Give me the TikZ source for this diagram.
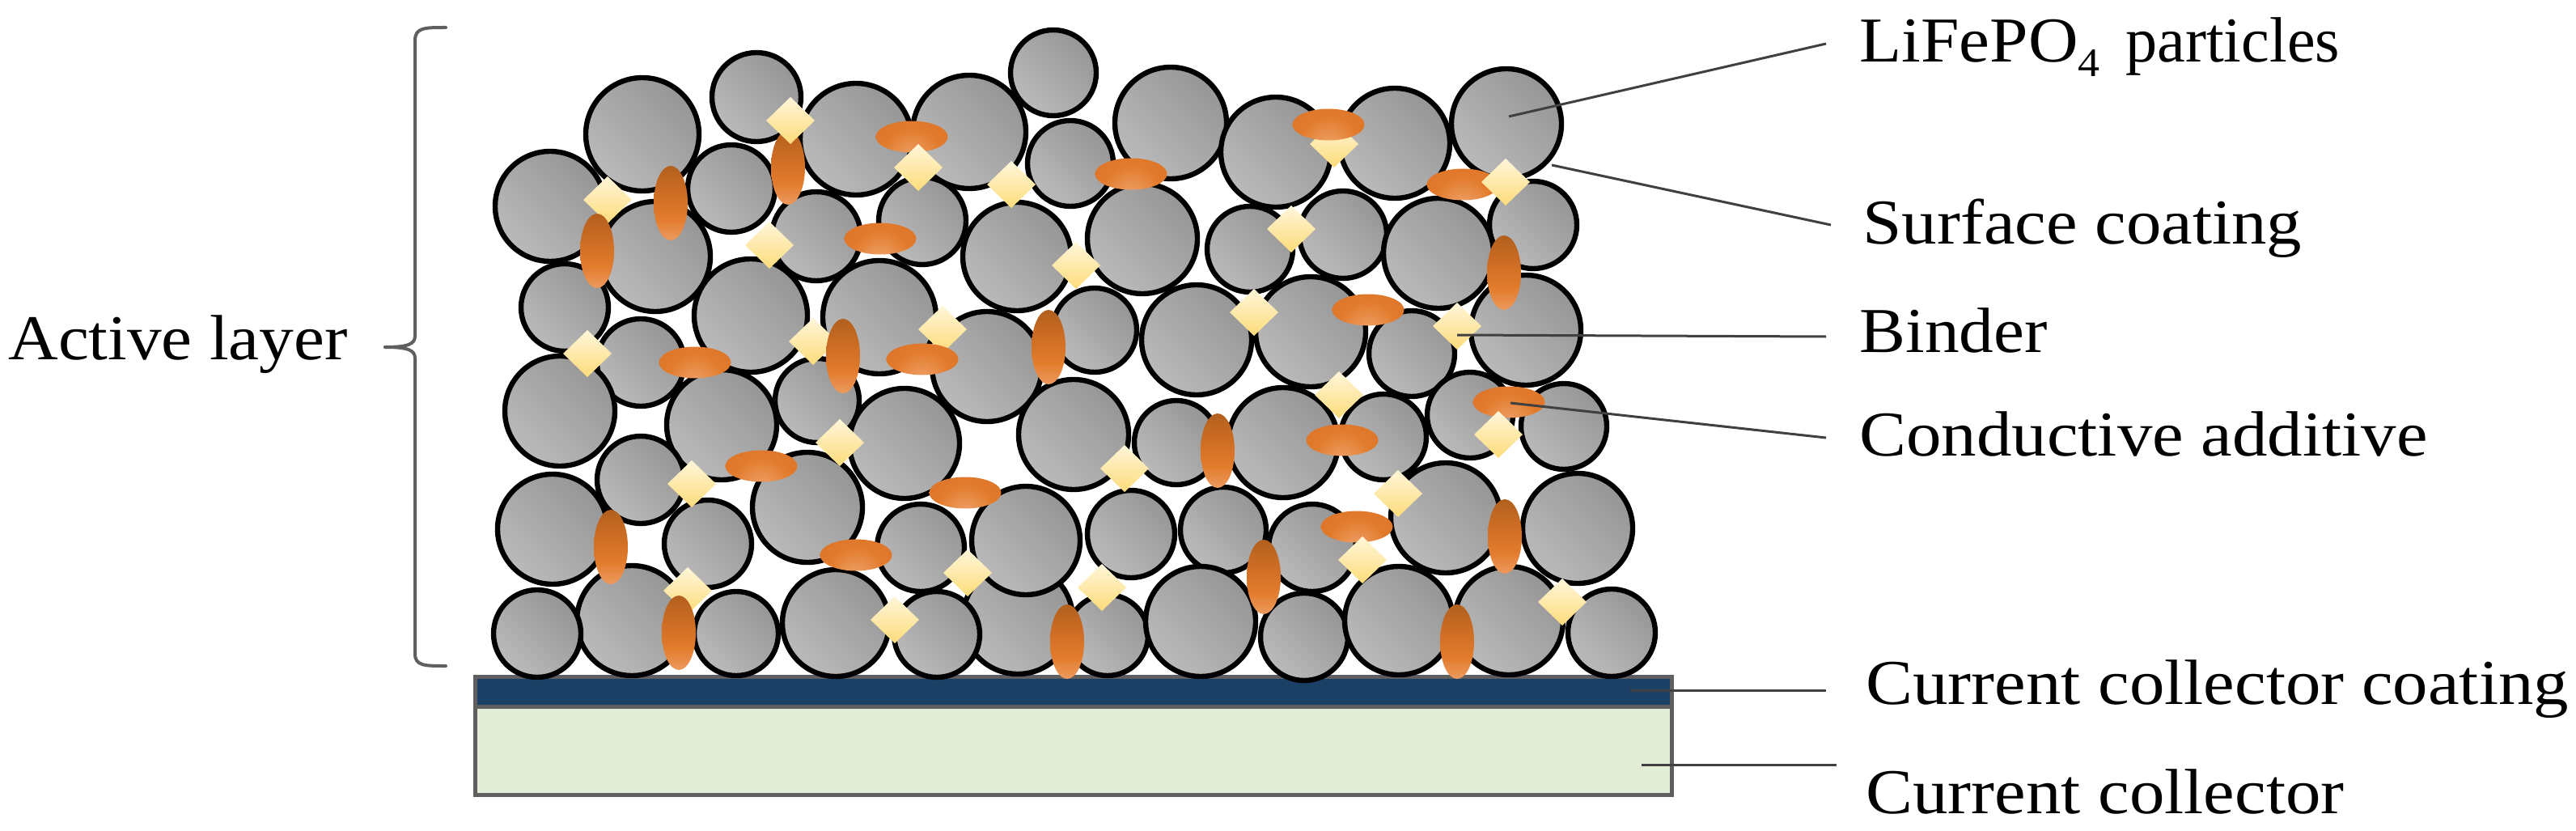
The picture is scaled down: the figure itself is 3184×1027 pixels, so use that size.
\documentclass[tikz,border=0pt]{standalone}
\usepackage{fontspec}
\setmainfont[FakeStretch=1.08]{Liberation Serif}
\newfontfamily\widerserif[FakeStretch=1.10]{Liberation Serif}
\newfontfamily\narrowerserif[FakeStretch=0.99]{Liberation Serif}
\definecolor{coatblue}{HTML}{1A4066}
\definecolor{collgreen}{HTML}{E2ECD6}
\definecolor{edgegray}{HTML}{5F5F5F}
\definecolor{leader}{HTML}{404040}
\definecolor{grayhi}{HTML}{BABABA}
\definecolor{graylo}{HTML}{969696}
\definecolor{orA}{HTML}{B2601E}
\definecolor{orB}{HTML}{E27B2C}
\definecolor{orC}{HTML}{F0A874}
\definecolor{orD}{HTML}{CC6C24}
\definecolor{orE}{HTML}{D9712A}
\definecolor{orF}{HTML}{EC9A5E}
\definecolor{dmtop}{HTML}{FFF6DA}
\definecolor{dmbot}{HTML}{FEDC7A}
\pgfdeclareradialshading{orangeflat}{\pgfpoint{0bp}{-18bp}}{
  color(0bp)=(orC); color(20bp)=(orB); color(38bp)=(orE); color(55bp)=(orA); color(100bp)=(orA)}
\pgfdeclareverticalshading{orangetall}{100bp}{
  color(0bp)=(orF); color(25bp)=(orF); color(40bp)=(orB); color(58bp)=(orD); color(75bp)=(orA); color(100bp)=(orA)}
\tikzset{
  particle/.style={draw=black,line width=3.2pt,top color=grayhi,bottom color=graylo,shading angle=135},
  diamondbit/.style={top color=dmtop,bottom color=dmbot},
  tallblob/.style={shading=orangetall},
  flatblob/.style={shading=orangeflat},
  layerbox/.style={draw=edgegray,line width=2.5pt},
  leaderline/.style={draw=leader,line width=1.5pt},
  bracket/.style={draw=edgegray,line width=2pt,line cap=round},
  labeltext/.style={anchor=base west,inner sep=0pt,font=\fontsize{39.5}{42}\selectfont,text=black},
  widelabel/.style={labeltext,font=\fontsize{39.5}{42}\selectfont\widerserif}
}
\newcommand{\dm}[2]{\shade[diamondbit] (#1,#2-29) -- (#1+30,#2) -- (#1,#2+29) -- (#1-30,#2) -- cycle;}
\begin{document}
\begin{tikzpicture}[x=0.5pt,y=-0.5pt]
\useasboundingbox (0,0) rectangle (3184,1027);
% layers
\filldraw[layerbox,fill=collgreen] (587,873) rectangle (2066,982);
\filldraw[layerbox,fill=coatblue] (587,836) rectangle (2066,873);
% particles
\foreach \x/\y/\r in {
 1302/90/53, 935/120/55, 1198/163/70, 1447/152/69, 794/166/70, 1058/172/69, 1862/153/68, 1724/177/68, 1577/188/68,
 1323/202/53, 680/255/68, 904/233/54, 1009/292/55, 1140/273/54, 1895/278/54, 1660/290/54, 1412/295/68, 1545/308/53,
 810/317/68, 1257/317/67, 1778/313/68, 698/380/54, 928/390/70, 1087/392/70, 1353/408/52, 1620/410/68, 1886/408/68,
 1479/420/68, 1745/437/53, 792/448/54, 1220/453/68, 692/508/68, 1010/495/52, 892/525/68, 1817/513/53, 1710/540/53,
 1933/527/53, 1327/537/68, 1454/547/52, 1586/547/68, 1118/548/68, 792/593/54, 998/627/68, 1787/640/68, 1950/653/68,
 1398/660/54, 1512/655/53, 683/654/68, 875/672/54, 1138/677/54, 1622/677/54, 1258/765/68, 1268/668/67, 781/767/68, 1033/770/66,
 664/783/54, 910/783/52, 1158/784/53, 1369/785/50, 1484/768/68, 1612/787/54, 1729/767/67, 1865/767/67, 1992/782/54
}{ \path[particle] (\x,\y) circle [radius=\r]; }
% diamonds beneath the blobs
\dm{751}{247}\dm{1005}{422}\dm{1165}{407}\dm{1649}{178}\dm{850}{730}
% tall blobs
\foreach \x/\y in {829/251,738/310,974/207,1042/440,1859/337,1296/429,755/676,839/782,1505/557,1562/713,1319/793,1801/793,1860/663}
{ \shade[tallblob] (\x,\y) ellipse [x radius=21,y radius=46]; }
% flat blobs
\foreach \x/\y in {1127/169,1088/295,859/448,1140/444,1398/215,1642/154,1808/228,1691/383,1865/497,1659/544,1677/651,941/576,1058/686,1193/609}
{ \begin{scope}
    \clip (\x,\y) ellipse [x radius=44.5,y radius=19.5];
    \shade[flatblob] (\x-45,\y-45) rectangle (\x+45,\y+45);
  \end{scope} }
% diamonds above the blobs
\dm{977}{149}\dm{1135}{207}\dm{1250}{228}\dm{951}{303}\dm{726}{437}
\dm{1330}{328}\dm{1861}{225}\dm{1596}{283}\dm{1550}{386}\dm{1801}{403}
\dm{1655}{488}\dm{1852}{537}\dm{1390}{579}\dm{1728}{610}\dm{1684}{692}
\dm{1362}{726}\dm{1931}{744}\dm{855}{598}\dm{1038}{547}\dm{1196}{708}\dm{1106}{766}
% brace
\draw[bracket] (551,34) .. controls (525,34) and (513,34) .. (513,50) -- (513,415) .. controls (513,425) and (505,429) .. (476,429);
\draw[bracket] (476,429) .. controls (505,429) and (513,433) .. (513,443) -- (513,808) .. controls (513,823) and (525,823) .. (551,823);
% labels
\node[labeltext] (active) at (10,444) {Active layer};
\node[labeltext] (lfp) at (2298,77) {LiFePO\raisebox{-0.22em}{\fontsize{25}{25}\selectfont 4}\kern 0.4em{\narrowerserif particles}};
\node[widelabel] (surf) at (2302,301) {Surface coating};
\node[labeltext] (bind) at (2298,435) {Binder};
\node[widelabel] (cond) at (2298,563) {Conductive additive};
\node[widelabel] (cccoat) at (2306,870) {Current collector coating};
\node[widelabel] (cc) at (2306,1005) {Current collector};
% leader lines
\coordinate (a1) at (1865,144); \coordinate (b1) at (2257,54);
\coordinate (a2) at (1918,204); \coordinate (b2) at (2263,278);
\coordinate (a3) at (1801,414); \coordinate (b3) at (2257,416);
\coordinate (a4) at (1867,498); \coordinate (b4) at (2257,541);
\coordinate (a5) at (2015,853); \coordinate (b5) at (2257,853);
\coordinate (a6) at (2029,945); \coordinate (b6) at (2270,945);
\foreach \i in {1,...,6}{ \draw[leaderline] (a\i) -- (b\i); }
\end{tikzpicture}
\end{document}
